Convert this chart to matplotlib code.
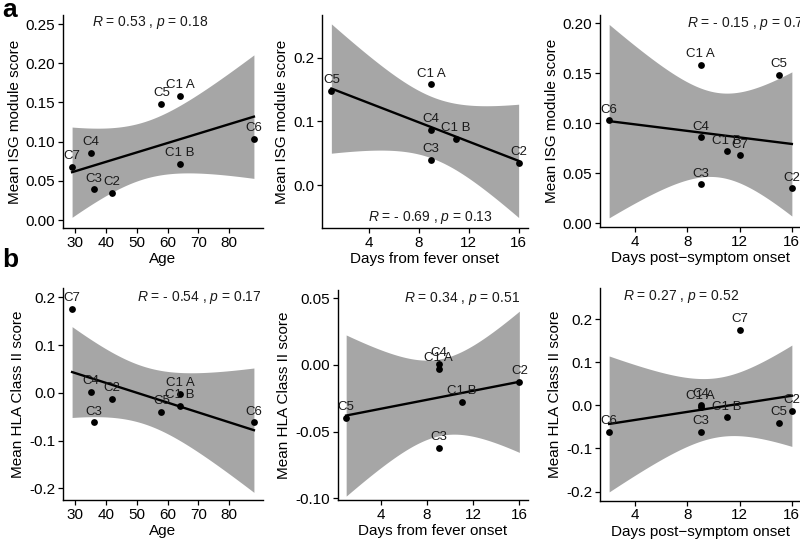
import numpy as np
import matplotlib
matplotlib.use("Agg")
import matplotlib.pyplot as plt
from matplotlib.ticker import FormatStrFormatter

plt.rcParams['font.family'] = ['Liberation Sans', 'DejaVu Sans']
plt.rcParams['mathtext.fontset'] = 'custom'
plt.rcParams['mathtext.it'] = 'Liberation Sans:italic'
plt.rcParams['mathtext.rm'] = 'Liberation Sans'

samples = ["C1 A", "C1 B", "C2", "C3", "C4", "C5", "C6", "C7"]
age = [64, 64, 42, 36, 35, 58, 88, 29]
fever_days = [9, 11, 16, 9, 9, 1, np.nan, np.nan]
symptom_days = [9, 11, 16, 9, 9, 15, 2, 12]
isg_score = [0.158, 0.072, 0.035, 0.039, 0.086, 0.148, 0.103, 0.068]
hla_score = [-0.003, -0.028, -0.013, -0.062, 0.001, -0.040, -0.062, 0.175]

r_labels = {
    ("age", "isg"): r"$R$ = 0.53 , $p$ = 0.18",
    ("fever", "isg"): r"$R$ = - 0.69 , $p$ = 0.13",
    ("symptom", "isg"): r"$R$ = - 0.15 , $p$ = 0.72",
    ("age", "hla"): r"$R$ = - 0.54 , $p$ = 0.17",
    ("fever", "hla"): r"$R$ = 0.34 , $p$ = 0.51",
    ("symptom", "hla"): r"$R$ = 0.27 , $p$ = 0.52",
}
t_crit = {4: 2.776445, 6: 2.446912}

xdata = {"age": age, "fever": fever_days, "symptom": symptom_days}
ydata = {"isg": isg_score, "hla": hla_score}
xtitle = {"age": "Age", "fever": "Days from fever onset", "symptom": "Days post\u2212symptom onset"}
ytitle = {"isg": "Mean ISG module score", "hla": "Mean HLA Class II score"}

W, H = 800, 540
fig = plt.figure(figsize=(8, 5.4), dpi=100)

def px_axes(l, r, t, b):
    return fig.add_axes([l / W, 1 - b / H, (r - l) / W, (b - t) / H])

panels = [
    # xkey, ykey, box(l,r,t,b), xlim, ylim, xticks, yticks, yfmt, label pos (axes frac)
    ("age", "isg", (63, 263, 15, 228), (26.05, 90.95), (-0.0102, 0.2615),
     [30, 40, 50, 60, 70, 80], np.arange(0, 0.26, 0.05), "%.2f", (0.145, 0.964)),
    ("fever", "isg", (322, 528, 15, 228), (0.25, 16.75), (-0.0675, 0.267),
     [4, 8, 12, 16], [0.0, 0.1, 0.2], "%.1f", (0.225, 0.05)),
    ("symptom", "isg", (600, 801, 15, 227), (1.3, 16.7), (-0.0035, 0.2083),
     [4, 8, 12, 16], np.arange(0, 0.21, 0.05), "%.2f", (0.434, 0.961)),
    ("age", "hla", (63, 263, 288, 500), (26.05, 90.95), (-0.2245, 0.2195),
     [30, 40, 50, 60, 70, 80], [-0.2, -0.1, 0.0, 0.1, 0.2], "%.1f", (0.368, 0.956)),
    ("fever", "hla", (337.5, 528, 290, 500), (0.25, 16.75), (-0.1013, 0.0562),
     [4, 8, 12, 16], [-0.10, -0.05, 0.0, 0.05], "%.2f", (0.351, 0.96)),
    ("symptom", "hla", (600, 801, 288, 500.7), (1.3, 16.7), (-0.221, 0.272),
     [4, 8, 12, 16], [-0.2, -0.1, 0.0, 0.1, 0.2], "%.1f", (0.116, 0.958)),
]

for xk, yk, box, xlim, ylim, xt, yt, yfmt, lpos in panels:
    ax = px_axes(*box)
    x = np.array(xdata[xk], dtype=float)
    y = np.array(ydata[yk], dtype=float)
    names = np.array(samples)
    m = ~np.isnan(x)
    x, y, names = x[m], y[m], names[m]
    n = len(x)
    # linear fit and 95% CI
    b1, b0 = np.polyfit(x, y, 1)
    resid = y - (b0 + b1 * x)
    s = np.sqrt(np.sum(resid ** 2) / (n - 2))
    xbar = x.mean()
    sxx = np.sum((x - xbar) ** 2)
    xs = np.linspace(x.min(), x.max(), 200)
    yh = b0 + b1 * xs
    se = s * np.sqrt(1.0 / n + (xs - xbar) ** 2 / sxx)
    tq = t_crit[n - 2]
    ax.fill_between(xs, yh - tq * se, yh + tq * se, color="#a6a6a6", lw=0, zorder=1)
    ax.plot(xs, yh, color="black", lw=1.7, zorder=2)
    ax.scatter(x, y, s=24, color="black", zorder=3, lw=0)
    for xi, yi, nm in zip(x, y, names):
        ax.annotate(nm, (xi, yi), xytext=(0, 3.5), textcoords="offset points",
                    ha="center", va="bottom", fontsize=9.5, color="#1a1a1a", zorder=4)
    ax.text(lpos[0], lpos[1], r_labels[(xk, yk)], transform=ax.transAxes,
            ha="left", va="center", fontsize=10, color="#1a1a1a")
    ax.set_xlim(*xlim)
    ax.set_ylim(*ylim)
    ax.set_xticks(xt)
    ax.set_yticks(yt)
    ax.yaxis.set_major_formatter(FormatStrFormatter(yfmt))
    for sp in ["top", "right"]:
        ax.spines[sp].set_visible(False)
    for sp in ["left", "bottom"]:
        ax.spines[sp].set_linewidth(1.0)
    ax.tick_params(length=3.5, width=0.9, labelsize=11, colors="black", pad=2)
    ax.set_xlabel(xtitle[xk], fontsize=11, labelpad=2)
    ax.set_ylabel(ytitle[yk], fontsize=11, labelpad=3)

fig.text(2 / W, 1 - 17 / H, "a", fontsize=19, fontweight="bold", ha="left", va="baseline")
fig.text(2 / W, 1 - 267 / H, "b", fontsize=19, fontweight="bold", ha="left", va="baseline")

fig.savefig("out.png", dpi=100)
